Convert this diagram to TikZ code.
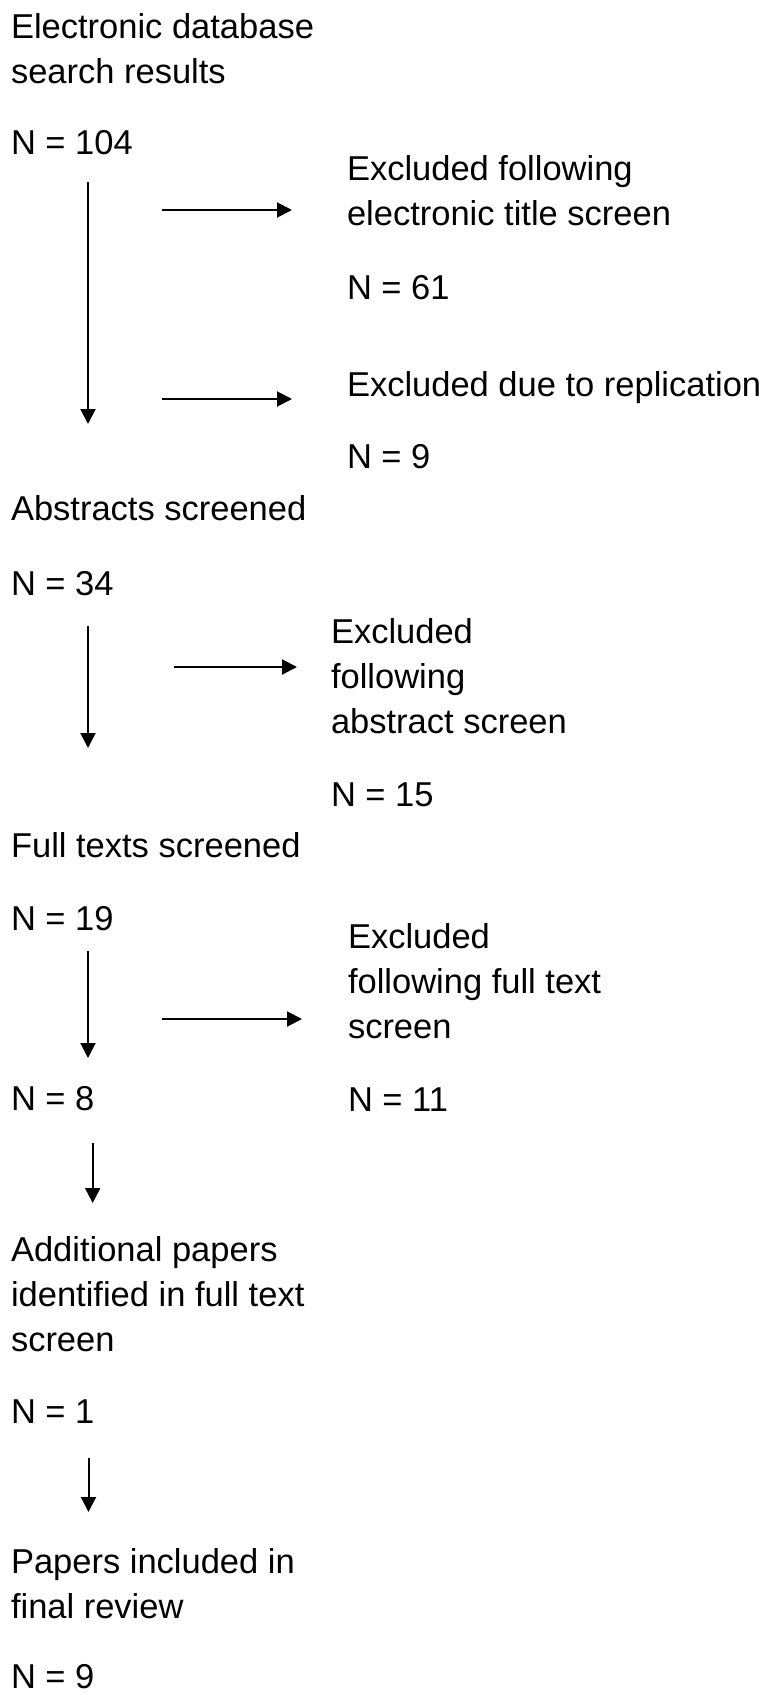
\documentclass[tikz,border=0pt]{standalone}
\usepackage{fontspec}
\setmainfont{Liberation Sans}
\usetikzlibrary{arrows.meta}
\begin{document}
\begin{tikzpicture}[x=1pt,y=-1pt,
  lbl/.style={inner sep=0pt,outer sep=0pt,align=left,font=\fontsize{34.5}{45}\selectfont},
  one/.style={lbl,anchor=base west},
  multi/.style={lbl,anchor=north west},
  flow/.style={line width=2pt,-{Triangle[length=15pt,width=15pt]}}]
\useasboundingbox (0,0) rectangle (767,1695);
% left column
\node[multi] (src) at (11,13) {Electronic database\\search results};
\node[one] (n104) at (11,154) {N = 104};
\node[one] (abs) at (11,520) {Abstracts screened};
\node[one] (n34) at (11,595) {N = 34};
\node[one] (full) at (11,857) {Full texts screened};
\node[one] (n19) at (11,930) {N = 19};
\node[one] (n8) at (11,1110) {N = 8};
\node[multi] (add) at (11,1236) {Additional papers\\identified in full text\\screen};
\node[one] (n1) at (11,1423) {N = 1};
\node[multi] (inc) at (11,1548) {Papers included in\\final review};
\node[one] (n9b) at (11,1688) {N = 9};
% right column
\node[multi] (exc1) at (347,155) {Excluded following\\electronic title screen};
\node[one] (n61) at (347,299) {N = 61};
\node[one] (exc2) at (347,396) {Excluded due to replication};
\node[one] (n9) at (347,468) {N = 9};
\node[multi] (exc3) at (331,618) {Excluded\\following\\abstract screen};
\node[one] (n15) at (331,806) {N = 15};
\node[multi] (exc4) at (348,923) {Excluded\\following full text\\screen};
\node[one] (n11) at (348,1111) {N = 11};
% arrow end points
\coordinate (a1s) at (88,182);  \coordinate (a1e) at (88,424);
\coordinate (h1s) at (162,210); \coordinate (h1e) at (292,210);
\coordinate (h2s) at (162,399); \coordinate (h2e) at (292,399);
\coordinate (a2s) at (88,626);  \coordinate (a2e) at (88,748);
\coordinate (h3s) at (174,667); \coordinate (h3e) at (297,667);
\coordinate (a3s) at (88,951);  \coordinate (a3e) at (88,1058);
\coordinate (h4s) at (162,1019);\coordinate (h4e) at (302,1019);
\coordinate (a4s) at (92.7,1143); \coordinate (a4e) at (92.7,1203);
\coordinate (a5s) at (88.5,1458); \coordinate (a5e) at (88.5,1512);
\draw[flow] (a1s) -- (a1e);
\draw[flow] (h1s) -- (h1e);
\draw[flow] (h2s) -- (h2e);
\draw[flow] (a2s) -- (a2e);
\draw[flow] (h3s) -- (h3e);
\draw[flow] (a3s) -- (a3e);
\draw[flow] (h4s) -- (h4e);
\draw[flow] (a4s) -- (a4e);
\draw[flow] (a5s) -- (a5e);
\end{tikzpicture}
\end{document}
